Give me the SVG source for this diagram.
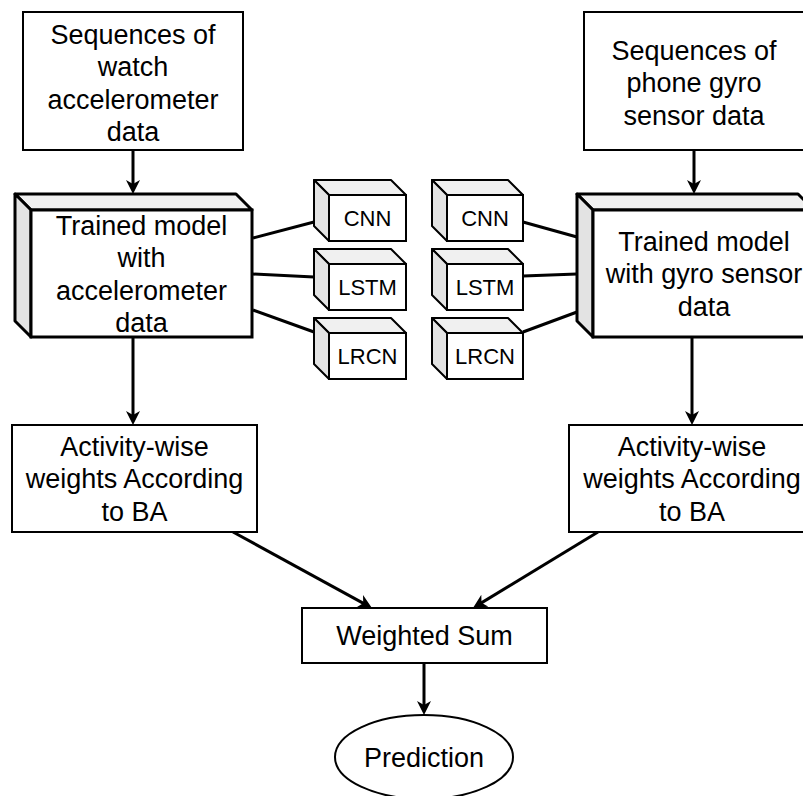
<svg xmlns="http://www.w3.org/2000/svg" width="803" height="796" viewBox="0 0 803 796">
  <style>
    .box { fill: #ffffff; stroke: #000000; stroke-width: 2; }
    .thick { stroke-width: 3; }
    .top { fill: #f0f0f0; stroke: #000000; stroke-linejoin: round; }
    .side { fill: #e3e3e3; stroke: #000000; stroke-linejoin: round; }
    .front { fill: #ffffff; stroke: #000000; }
    .m { stroke-width: 3; }
    .s { stroke-width: 2; }
    .lbl { font-family: "Liberation Sans", Arial, Helvetica, sans-serif; font-size: 27px; fill: #000000; text-anchor: middle; }
    .small { font-size: 22px; }
    .edge { stroke: #000000; stroke-width: 3; fill: none; }
  </style>
  <defs>
    <marker id="arrow" viewBox="0 0 14 14" refX="8" refY="7" markerWidth="14" markerHeight="14" markerUnits="userSpaceOnUse" orient="auto">
      <path d="M0,0 L14,7 L0,14 L4,7 z" fill="#000000"/>
    </marker>
  </defs>

  <rect width="803" height="796" fill="#ffffff"/>

  <!-- connectors -->
  <g id="connectors">
    <line class="edge" x1="133" y1="150" x2="133" y2="188" marker-end="url(#arrow)"/>
    <line class="edge" x1="694" y1="150" x2="694" y2="188" marker-end="url(#arrow)"/>
    <line class="edge" x1="133" y1="337" x2="133" y2="419" marker-end="url(#arrow)"/>
    <line class="edge" x1="692" y1="337" x2="692" y2="419" marker-end="url(#arrow)"/>
    <line class="edge" x1="233" y1="532" x2="366.7" y2="605.1" marker-end="url(#arrow)"/>
    <line class="edge" x1="598" y1="532" x2="478.1" y2="604.9" marker-end="url(#arrow)"/>
    <line class="edge" x1="424" y1="663" x2="424" y2="709" marker-end="url(#arrow)"/>
    <!-- model to network links -->
    <line class="edge" x1="253" y1="238" x2="314" y2="222"/>
    <line class="edge" x1="253" y1="274" x2="314" y2="277"/>
    <line class="edge" x1="253" y1="310" x2="314" y2="332"/>
    <line class="edge" x1="523" y1="222" x2="577" y2="237"/>
    <line class="edge" x1="523" y1="276" x2="577" y2="274"/>
    <line class="edge" x1="523" y1="332" x2="577" y2="312"/>
  </g>

  <!-- inputs -->
  <g id="watch-input">
    <rect class="box" x="23" y="12" width="220" height="138"/>
    <text class="lbl" x="133" y="44">Sequences of</text>
    <text class="lbl" x="133" y="76.4">watch</text>
    <text class="lbl" x="133" y="108.8">accelerometer</text>
    <text class="lbl" x="133" y="141.2">data</text>
  </g>
  <g id="phone-input">
    <rect class="box" x="584" y="12" width="222" height="138"/>
    <text class="lbl" x="694" y="60">Sequences of</text>
    <text class="lbl" x="694" y="92.4">phone gyro</text>
    <text class="lbl" x="694" y="124.8">sensor data</text>
  </g>

  <!-- trained models -->
  <g id="model-accel">
    <polygon class="top m" points="15,194 236,194 252,210 31,210"/>
    <polygon class="side m" points="15,194 31,210 31,337 15,321"/>
    <rect class="front m" x="31" y="210" width="221" height="127"/>
    <text class="lbl" x="141.5" y="235">Trained model</text>
    <text class="lbl" x="141.5" y="267.4">with</text>
    <text class="lbl" x="141.5" y="299.8">accelerometer</text>
    <text class="lbl" x="141.5" y="332.2">data</text>
  </g>
  <g id="model-gyro">
    <polygon class="top m" points="577,194 798,194 814,210 593,210"/>
    <polygon class="side m" points="577,194 593,210 593,337 577,321"/>
    <rect class="front m" x="593" y="210" width="221" height="127"/>
    <text class="lbl" x="704" y="251">Trained model</text>
    <text class="lbl" x="704" y="283.4">with gyro sensor</text>
    <text class="lbl" x="704" y="315.8">data</text>
  </g>

  <!-- network types, accelerometer side -->
  <g id="cnn-left">
    <polygon class="top s" points="314,180 391,180 406,195 329,195"/>
    <polygon class="side s" points="314,180 329,195 329,241 314,226"/>
    <rect class="front s" x="329" y="195" width="77" height="46"/>
    <text class="lbl small" x="367.5" y="226">CNN</text>
  </g>
  <g id="lstm-left">
    <polygon class="top s" points="314,249 391,249 406,264 329,264"/>
    <polygon class="side s" points="314,249 329,264 329,310 314,295"/>
    <rect class="front s" x="329" y="264" width="77" height="46"/>
    <text class="lbl small" x="367.5" y="295">LSTM</text>
  </g>
  <g id="lrcn-left">
    <polygon class="top s" points="314,318 391,318 406,333 329,333"/>
    <polygon class="side s" points="314,318 329,333 329,379 314,364"/>
    <rect class="front s" x="329" y="333" width="77" height="46"/>
    <text class="lbl small" x="367.5" y="364">LRCN</text>
  </g>

  <!-- network types, gyro side -->
  <g id="cnn-right">
    <polygon class="top s" points="432,180 508,180 523,195 447,195"/>
    <polygon class="side s" points="432,180 447,195 447,241 432,226"/>
    <rect class="front s" x="447" y="195" width="76" height="46"/>
    <text class="lbl small" x="485" y="226">CNN</text>
  </g>
  <g id="lstm-right">
    <polygon class="top s" points="432,249 508,249 523,264 447,264"/>
    <polygon class="side s" points="432,249 447,264 447,310 432,295"/>
    <rect class="front s" x="447" y="264" width="76" height="46"/>
    <text class="lbl small" x="485" y="295">LSTM</text>
  </g>
  <g id="lrcn-right">
    <polygon class="top s" points="432,318 508,318 523,333 447,333"/>
    <polygon class="side s" points="432,318 447,333 447,379 432,364"/>
    <rect class="front s" x="447" y="333" width="76" height="46"/>
    <text class="lbl small" x="485" y="364">LRCN</text>
  </g>

  <!-- weighting -->
  <g id="weights-accel">
    <rect class="box" x="12" y="425" width="245" height="107"/>
    <text class="lbl" x="134.5" y="456">Activity-wise</text>
    <text class="lbl" x="134.5" y="488.4">weights According</text>
    <text class="lbl" x="134.5" y="520.8">to BA</text>
  </g>
  <g id="weights-gyro">
    <rect class="box" x="569" y="425" width="246" height="107"/>
    <text class="lbl" x="692" y="456">Activity-wise</text>
    <text class="lbl" x="692" y="488.4">weights According</text>
    <text class="lbl" x="692" y="520.8">to BA</text>
  </g>

  <g id="weighted-sum">
    <rect class="box" x="302" y="608" width="245" height="55"/>
    <text class="lbl" x="424.5" y="645">Weighted Sum</text>
  </g>

  <g id="prediction">
    <ellipse class="box" cx="424" cy="757" rx="89" ry="42"/>
    <text class="lbl" x="424" y="767">Prediction</text>
  </g>
</svg>
